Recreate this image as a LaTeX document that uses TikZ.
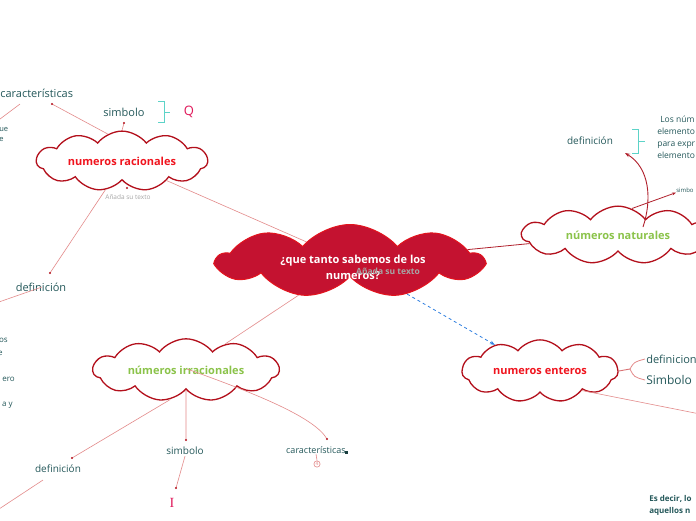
\documentclass[tikz,border=0pt]{standalone}
\usepackage{fontspec}
\setmainfont{Open Sans}
\newfontfamily\serifletter{Liberation Serif}
\usetikzlibrary{shapes.symbols,arrows.meta}
\definecolor{cloudred}{HTML}{B3101C}
\definecolor{centerfill}{HTML}{C41230}
\definecolor{centerline}{HTML}{E3141E}
\definecolor{titlered}{HTML}{F0141E}
\definecolor{titlegreen}{HTML}{8BC34A}
\definecolor{tealtext}{HTML}{24585A}
\definecolor{linkred}{HTML}{E38A8A}
\definecolor{darklink}{HTML}{B0202C}
\definecolor{bracketteal}{HTML}{5DD3C8}
\definecolor{letterpink}{HTML}{E0185A}
\definecolor{dashblue}{HTML}{2F7FE0}
\begin{document}
\begin{tikzpicture}[x=1pt, y=-1pt, line width=0.6pt,
    idea/.style={cloud, cloud puffs=11, cloud puff arc=105,
      draw=cloudred, line width=1.3pt, fill=white, inner sep=0pt,
      font=\bfseries\fontsize{11}{13}\selectfont},
    label/.style={text=tealtext, inner sep=1pt, font=\fontsize{11}{13}\selectfont},
    small/.style={text=tealtext, inner sep=0pt, align=left, font=\fontsize{8}{12}\selectfont},
    link/.style={draw=linkred, line width=0.6pt},
    enddot/.style={fill=cloudred, circle, inner sep=0.8pt},
    brack/.style={draw=bracketteal, line width=1pt}]
  \clip (0,0) rectangle (696,520);
  \fill[white] (0,0) rectangle (696,520);

  \node[idea, cloud puffs=9, cloud puff arc=100, fill=centerfill, draw=centerline, line width=1pt,
    aspect=3.5, minimum width=265, minimum height=73] (central) at (350,261) {\rule[-14pt]{0pt}{28pt}\hspace{100pt}};
  \node[text=white, align=center, font=\bfseries\fontsize{11}{16}\selectfont] (centraltitle) at (353,267)
    {¿que tanto sabemos de los\\numeros?};
  \node[text=black!35, font=\bfseries\fontsize{8.5}{10}\selectfont] (centralnote) at (388,271) {Añada su texto};

  \node[idea, aspect=3.8, minimum width=171, text=titlered] (racionales) at (122,161) {numeros racionales};
  \node[idea, aspect=3.8, minimum width=192, text=titlegreen] (naturales) at (618,235) {números naturales};
  \node[idea, aspect=4.0, minimum width=186, text=titlegreen] (irracionales) at (186,370) {números irracionales};
  \node[idea, aspect=2.9, minimum width=156, text=titlered] (enteros) at (540,371) {numeros enteros};

  \node[label, anchor=west] (rcarac) at (-1,93) {características};
  \node[label] (rsimb) at (124,112) {simbolo};
  \node[text=letterpink, font=\fontsize{13}{15}\selectfont] (rletter) at (189,112) {Q};
  \node[small, anchor=north west, font=\fontsize{7.5}{10}\selectfont] (rnote) at (-1,127) {ue\\e};
  \node[text=black!35, font=\fontsize{6.5}{7}\selectfont] (rcomment) at (128,197) {Añada su texto};
  \node[label] (rdef) at (41,287) {definición};
  \node[small, anchor=east] (rdefa) at (8,340) {os};
  \node[small, anchor=east] (rdefb) at (3,353) {e};
  \node[small, anchor=east] (rdefc) at (15,379) {ero};
  \node[small, anchor=east] (rdefd) at (13,405) {a y};

  \coordinate (rcaracdot) at (52,104);
  \coordinate (rcaracout) at (20,104);
  \coordinate (rcaracedge) at (-4,122);
  \coordinate (rsimbdot) at (124,123);
  \coordinate (rdefdot) at (50,273);
  \coordinate (rdefin) at (42,287);
  \coordinate (rdefedge) at (-4,303);
  \coordinate (rnotedot) at (127,188);
  \draw[link] (racionales.118) -- (rcaracdot);
  \draw[link] (rcaracout) -- (rcaracedge);
  \draw[link] (racionales.north) -- (rsimbdot);
  \draw[link] (racionales.-120) -- (rdefdot);
  \draw[link] (rdefin) -- (rdefedge);
  \draw[brack] (158,101) -- (164,101) -- (164,122) -- (158,122) (164,112) -- (170,112);
  \node[enddot] at (rcaracdot) {};
  \node[enddot] at (rsimbdot) {};
  \node[enddot] at (rdefdot) {};
  \node[enddot] at (rnotedot) {};

  \draw[link] (racionales) -- (central);
  \draw[link] (central) -- (irracionales);
  \draw[draw=darklink, line width=0.8pt] (central) -- (naturales);
  \draw[dashed, draw=dashblue, line width=0.8pt, -{Stealth[length=5pt]}] (central) -- (enteros);

  \node[label, font=\fontsize{10}{12}\selectfont] (ndef) at (590,141) {definición};
  \node[small, anchor=north west, font=\fontsize{8.5}{12}\selectfont] (ntext) at (657,116)
    {\hspace{3pt}Los núm\\elemento\\para expr\\elemento};
  \node[small, anchor=west, font=\fontsize{6}{7}\selectfont] (nsimb) at (676,190) {simbo};
  \coordinate (narrowtip) at (625,153);
  \draw[brack] (632,129) -- (638,129) -- (638,153) -- (632,153) (638,141) -- (645,141);
  \draw[draw=darklink, line width=0.9pt, -{Stealth[length=5pt]}]
    ([shift={(25,-8)}]naturales.center) .. controls (652,200) and (650,168) .. (narrowtip);
  \draw[draw=darklink, line width=0.8pt, -{Stealth[length=4pt]}] (naturales.62) -- (nsimb.south west);

  \node[label, anchor=west] (edef) at (645,359) {definicion};
  \node[label, anchor=west, font=\fontsize{12}{14}\selectfont] (esimb) at (645,380) {Simbolo};
  \coordinate (ebrace) at (630,369);
  \coordinate (eedge) at (700,414);
  \draw[draw=linkred!80!cloudred, line width=0.9pt] (enteros.east) -- (ebrace);
  \draw[link, line width=0.8pt] (ebrace) .. controls (634,362) .. (edef.west);
  \draw[link, line width=0.8pt] (ebrace) .. controls (634,377) .. (esimb.west);
  \draw[link] (enteros.-25) -- (eedge);
  \node[small, anchor=north west, font=\bfseries\fontsize{8}{12}\selectfont] (etext) at (649,495)
    {Es decir, lo\\aquellos n};

  \node[label, font=\fontsize{10}{12}\selectfont] (idef) at (58,469) {definición};
  \node[label, font=\fontsize{10}{12}\selectfont] (isimb) at (185,451) {simbolo};
  \node[text=letterpink, font=\serifletter\fontsize{14}{16}\selectfont] (iletter) at (172,503) {I};
  \node[small, font=\fontsize{9}{10}\selectfont] (icarac) at (316,450) {características};
  \node[draw=linkred, circle, inner sep=0.6pt, text=linkred, font=\fontsize{5}{5}\selectfont] (icount) at (317,464) {4};
  \fill[tealtext!70!black] (345,451) rectangle (348,454);
  \coordinate (idefdot) at (72,458);
  \coordinate (idefout) at (43,480);
  \coordinate (idefedge) at (-4,511);
  \coordinate (isimbdot) at (186,440);
  \coordinate (iletterdot) at (176,488);
  \coordinate (icaracdot) at (327,439);
  \draw[link] (irracionales.-118) -- (idefdot);
  \draw[link] (idefout) -- (idefedge);
  \draw[link, line width=0.8pt] (irracionales.south) -- (isimbdot);
  \draw[link] (isimb.south) -- (iletterdot);
  \draw[link] ([shift={(1,-1)}]irracionales.center) .. controls (260,395) and (315,418) .. (icaracdot);
  \draw[link] (icarac.south) -- (icount.north);
  \node[enddot] at (idefdot) {};
  \node[enddot] at (isimbdot) {};
  \node[enddot] at (iletterdot) {};
  \node[enddot] at (icaracdot) {};
\end{tikzpicture}
\end{document}
